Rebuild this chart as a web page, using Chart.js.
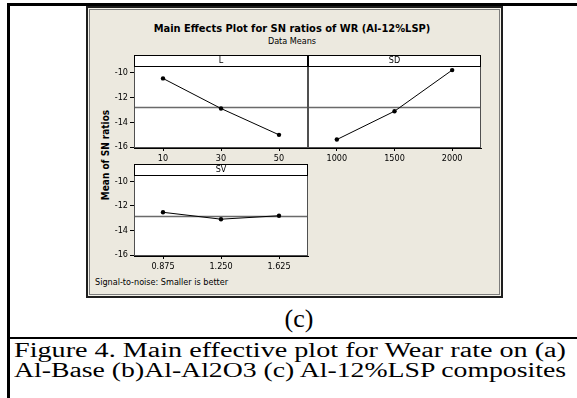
<!DOCTYPE html>
<html>
<head>
<meta charset="utf-8">
<script src="https://cdn.jsdelivr.net/npm/chart.js@4"></script>
<style>
  html, body { margin: 0; padding: 0; background: #fff; }
  #page { position: relative; width: 577px; height: 398px; overflow: hidden; }
  .rule { position: absolute; background: #000; }
  #panel {
    position: absolute; left: 86px; top: 6px; width: 417px; height: 292px;
    box-sizing: border-box; background: #ECE9DF;
    border: 2px solid #1e1e1e;
    box-shadow: inset 0 0 0 1px #f4f2ea, inset 0 0 0 2px #7c7c7c;
  }
  .mt { position: absolute; font-family: "DejaVu Sans Condensed", "DejaVu Sans", sans-serif; color: #000; white-space: nowrap; }
  #title { left: 0; width: 584px; top: 22px; text-align: center; font-weight: bold; font-size: 11px; }
  #subtitle { left: 0; width: 584px; top: 36px; text-align: center; font-size: 9px; }
  #ytitle { left: 105px; top: 155px; font-weight: bold; font-size: 10px; transform: translate(-50%, -50%) rotate(-90deg); }
  #note { left: 95px; top: 277px; font-size: 9px; }
  .serif { position: absolute; font-family: "Liberation Serif", "Times New Roman", serif; color: #000; white-space: nowrap; }
  #sub { left: 299px; top: 319px; font-size: 26px; transform: translate(-50%, -50%); }
  .cap { left: 14px; font-size: 20px; transform-origin: 0 0; }
  #cap1 { top: 339px; }
  #cap2 { top: 359px; }
  canvas { position: absolute; }
</style>
</head>
<body>
<div id="page">
  <div class="rule" style="left:8px; top:3px; width:569px; height:3px;"></div>
  <div class="rule" style="left:7px; top:3px; width:3px; height:395px;"></div>
  <div class="rule" style="left:8px; top:337px; width:569px; height:2px;"></div>
  <div id="panel"></div>
  <div class="mt" id="title">Main Effects Plot for SN ratios of WR (Al-12%LSP)</div>
  <div class="mt" id="subtitle">Data Means</div>
  <div class="mt" id="ytitle">Mean of SN ratios</div>
  <div class="mt" id="note">Signal-to-noise: Smaller is better</div>
  <canvas id="cL" width="215" height="120" style="left:100px; top:50px;"></canvas>
  <canvas id="cSD" width="190" height="120" style="left:300px; top:50px;"></canvas>
  <canvas id="cSV" width="215" height="119" style="left:100px; top:159px;"></canvas>
  <div class="serif" id="sub">(c)</div>
  <div class="serif cap" id="cap1">Figure 4. Main effective plot for Wear rate on (a)</div>
  <div class="serif cap" id="cap2">Al-Base (b)Al-Al2O3 (c) Al-12%LSP composites</div>
</div>
<script>
// Mean S/N ratio (dB) at each factor level
const yTicks = [-16, -14, -12, -10];
const snMean = -12.8;

const levelsL = ['10', '30', '50'];
const snL = [-10.48, -12.90, -15.02];

const levelsSD = ['1000', '1500', '2000'];
const snSD = [-15.40, -13.12, -9.81];

const levelsSV = ['0.875', '1.250', '1.625'];
const snSV = [-12.52, -13.08, -12.80];

const FONT = '"DejaVu Sans Condensed", "DejaVu Sans", sans-serif';

// Caption lines are set to the full text width of the page
document.querySelectorAll('.cap').forEach(el => {
  const w = el.getBoundingClientRect().width;
  el.style.transform = 'scaleX(' + (552 / w) + ')';
});

// White plotting area, overall-mean reference line, frame and factor strip
const panelFrame = {
  id: 'panelFrame',
  beforeDraw(chart) {
    const { ctx, chartArea: a } = chart;
    ctx.save();
    ctx.fillStyle = '#fff';
    ctx.fillRect(a.left, a.top, a.right - a.left, a.bottom - a.top);
    ctx.restore();
  },
  beforeDatasetsDraw(chart) {
    const { ctx, chartArea: a, scales: { y } } = chart;
    const ym = Math.round(y.getPixelForValue(snMean)) + 0.5;
    ctx.save();
    ctx.strokeStyle = '#6a6a6a';
    ctx.lineWidth = 1.5;
    ctx.beginPath();
    ctx.moveTo(a.left, ym);
    ctx.lineTo(a.right, ym);
    ctx.stroke();
    ctx.restore();
  },
  afterDraw(chart, args, opts) {
    const { ctx, chartArea: a } = chart;
    const h = 11;
    const top = a.top - h;
    ctx.save();
    ctx.strokeStyle = '#505050';
    ctx.lineWidth = 1;
    ctx.strokeRect(a.left + 0.5, a.top + 0.5, a.right - a.left - 1, a.bottom - a.top - 1);
    ctx.fillStyle = '#fff';
    ctx.fillRect(a.left, top, a.right - a.left, h);
    ctx.strokeStyle = '#000';
    ctx.strokeRect(a.left + 0.5, top + 0.5, a.right - a.left - 1, h);
    ctx.fillStyle = '#000';
    ctx.font = '9px ' + FONT;
    ctx.textAlign = 'center';
    ctx.textBaseline = 'middle';
    ctx.fillText(opts.label, (a.left + a.right) / 2, top + h / 2 + 0.5);
    ctx.restore();
  }
};

function makePanel(id, labels, values, header, showY, pad) {
  new Chart(document.getElementById(id), {
    type: 'line',
    data: {
      labels: labels,
      datasets: [{
        data: values,
        borderColor: '#000',
        borderWidth: 1,
        pointRadius: 2.2,
        pointBackgroundColor: '#000',
        pointBorderColor: '#000',
        pointBorderWidth: 0,
        tension: 0
      }]
    },
    options: {
      responsive: false,
      animation: false,
      events: [],
      layout: { padding: pad },
      plugins: {
        legend: { display: false },
        tooltip: { enabled: false },
        panelFrame: { label: header }
      },
      scales: {
        x: {
          offset: true,
          grid: { offset: false, drawOnChartArea: false, drawTicks: true, tickLength: 3, color: '#000' },
          border: { display: true, color: '#000' },
          ticks: { font: { family: FONT, size: 9 }, color: '#000', padding: 2, maxRotation: 0, autoSkip: false },
          afterFit: s => { s.height = 22; }
        },
        y: {
          display: showY,
          min: -16.08,
          max: -9.48,
          afterBuildTicks: s => { s.ticks = yTicks.map(v => ({ value: v })); },
          grid: { drawOnChartArea: false, drawTicks: true, tickLength: 4, color: '#000' },
          border: { display: true, color: '#000' },
          ticks: { font: { family: FONT, size: 9 }, color: '#000', padding: 2 },
          afterFit: s => { s.width = showY ? 34 : 0; }
        }
      }
    },
    plugins: [panelFrame]
  });
}

makePanel('cL', levelsL, snL, 'L', true, { top: 16, right: 7, left: 0, bottom: 0 });
makePanel('cSD', levelsSD, snSD, 'SD', false, { top: 16, right: 9, left: 8, bottom: 0 });
makePanel('cSV', levelsSV, snSV, 'SV', true, { top: 16, right: 7, left: 0, bottom: 0 });
</script>
</body>
</html>
